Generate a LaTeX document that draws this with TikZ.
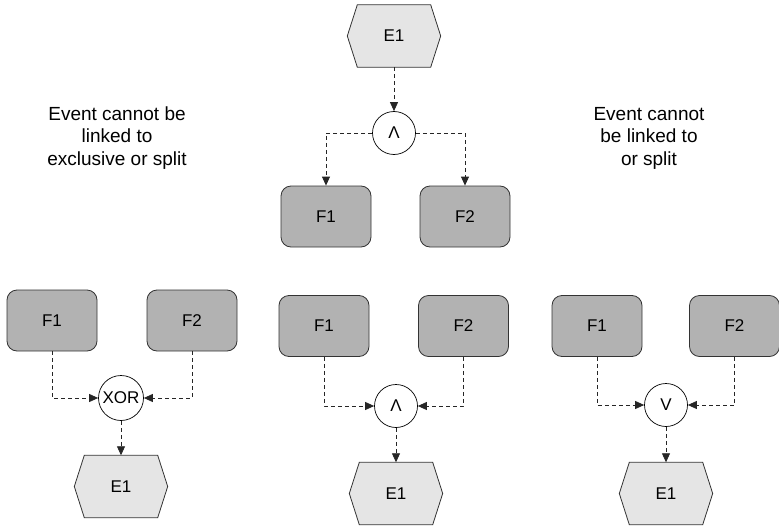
\documentclass[tikz,border=0pt]{standalone}
\usepackage{fontspec}
\setmainfont{Liberation Sans}
\usetikzlibrary{arrows.meta,backgrounds}
\newcommand\hexev[1]{%
  \draw[hexline] (#1.west) -- ([xshift=10pt]#1.north west) -- ([xshift=-10pt]#1.north east)
    -- (#1.east) -- ([xshift=-10pt]#1.south east) -- ([xshift=10pt]#1.south west) -- cycle;}
\begin{document}
\begin{tikzpicture}[x=1pt,y=-1pt,
  every node/.style={font=\fontsize{17}{22.5}\selectfont, text=black},
  func/.style={draw=black!80, fill=black!30, rounded corners=10pt, minimum width=90pt,
    minimum height=61pt, line width=0.8pt},
  ev/.style={minimum width=93pt, minimum height=62pt, inner sep=0pt},
  hexline/.style={draw=black!80, fill=black!10, line width=0.8pt},
  gate/.style={circle, draw=black, fill=white, minimum size=43pt, inner sep=0pt, line width=0.7pt},
  flow/.style={dash pattern=on 4pt off 3pt, draw=black!85, line width=0.8pt,
    -{Triangle[length=9pt,width=8pt]}},
  note/.style={align=center, font=\fontsize{19}{22.5}\selectfont}
]
\useasboundingbox (0,0) rectangle (779,527);

% top group
\node[ev] (e1t) at (394,36) {E1};
\node[gate] (andt) at (394,133) {Λ};
\node[func] (f1t) at (326,216.5) {F1};
\node[func] (f2t) at (465,216.5) {F2};

% left group
\node[func] (f1l) at (52,320.5) {F1};
\node[func] (f2l) at (192,320.5) {F2};
\node[gate, minimum size=45pt] (xor) at (121,398) {XOR};
\node[ev] (e1l) at (121,486.5) {E1};

% middle group
\node[func] (f1m) at (324,326) {F1};
\node[func] (f2m) at (463.5,326) {F2};
\node[gate] (andm) at (396,406) {Λ};
\node[ev] (e1m) at (396,493.5) {E1};

% right group
\node[func] (f1r) at (597,326) {F1};
\node[func] (f2r) at (734.5,326) {F2};
\node[gate] (orr) at (666,405) {V};
\node[ev] (e1r) at (666,493.5) {E1};

% notes
\node[note] (n1) at (117,138) {Event cannot be\\linked to\\exclusive or split};
\node[note] (n2) at (649,138) {Event cannot\\be linked to\\or split};

\begin{scope}[on background layer]
  \hexev{e1t}\hexev{e1l}\hexev{e1m}\hexev{e1r}
\end{scope}

% connectors
\draw[flow] (e1t) -- (andt);
\draw[flow] (andt.west) -| (f1t.north);
\draw[flow] (andt.east) -| (f2t.north);

\draw[flow] (f1l.south) |- (xor.west);
\draw[flow] (f2l.south) |- (xor.east);
\draw[flow] (xor) -- (e1l);

\draw[flow] (f1m.south) |- (andm.west);
\draw[flow] (f2m.south) |- (andm.east);
\draw[flow] (andm) -- (e1m);

\draw[flow] (f1r.south) |- (orr.west);
\draw[flow] (f2r.south) |- (orr.east);
\draw[flow] (orr) -- (e1r);
\end{tikzpicture}
\end{document}
